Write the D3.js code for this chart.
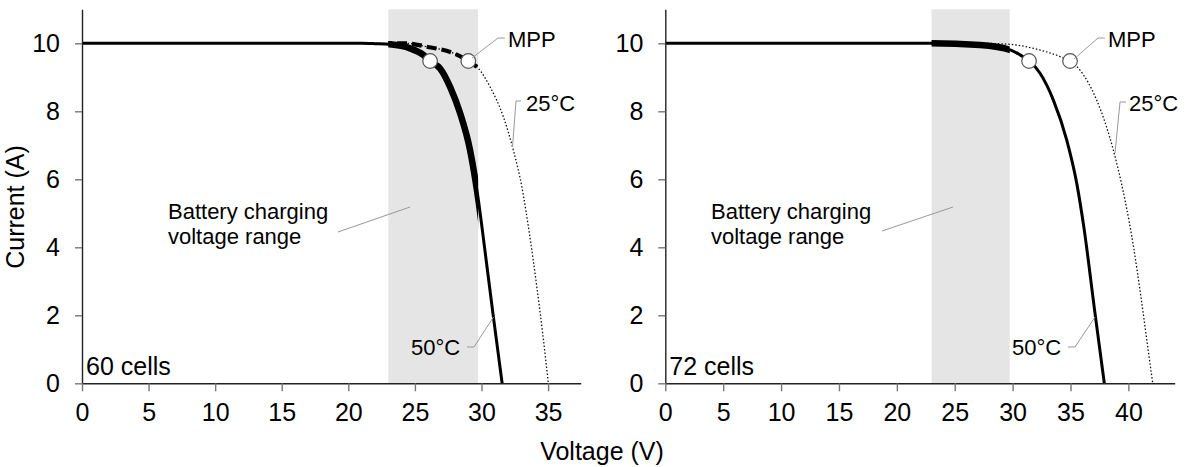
<!DOCTYPE html>
<html>
    <head>
        <meta charset="utf-8">
        <title>PV I-V curves</title>
        <script src="https://d3js.org/d3.v7.min.js" charset="utf-8"></script>
        <style type="text/css">
        body {
            margin: 0;
            background: white;
        }
        svg text {
            font-family: 'Liberation Sans', Arial, sans-serif;
            fill: black;
        }
        .tick text {
            font-size: 25px;
        }
        .note {
            font-size: 22px;
        }
        .leader {
            fill: none;
            stroke: #999;
            stroke-width: 1;
        }
        </style>
    </head>
    <body>
        <script type="text/javascript">

        // values
        var currentTicks = [0, 2, 4, 6, 8, 10];
        var voltTicks60 = [0, 5, 10, 15, 20, 25, 30, 35];
        var voltTicks72 = [0, 5, 10, 15, 20, 25, 30, 35, 40];
        var chargeRange = [23, 29.75];

        // [voltage, current]
        var cells60_50C = [[0, 10], [21, 10], [22, 9.99], [23.13, 9.97], [24.64, 9.85], [25.63, 9.66],
            [26.14, 9.48], [26.89, 9.26], [27.64, 8.72], [28.39, 7.95], [29.14, 6.86], [29.55, 5.95],
            [29.8, 5.3], [30.05, 4.55], [30.89, 1.96], [31.55, 0]];
        var cells60_25C = [[0, 10], [23, 10], [24.26, 10], [25.89, 9.9], [27.89, 9.71], [29.01, 9.48],
            [29.77, 9.26], [30.64, 8.72], [31.64, 7.84], [32.39, 6.86], [33.03, 5.78], [33.6, 4.4],
            [34.15, 2.85], [34.6, 1.45], [35.02, 0]];
        var cells72_50C = [[0, 10], [22.86, 10], [27.18, 9.95], [29.84, 9.8], [30.64, 9.66], [31.42, 9.48],
            [32.37, 9.12], [33.52, 8.33], [34.67, 7.16], [35.54, 5.88], [36.15, 4.6], [37.1, 2.1],
            [37.92, 0]];
        var cells72_25C = [[0, 10], [27, 10], [29.78, 9.97], [32.37, 9.8], [34.1, 9.61], [34.96, 9.48],
            [35.82, 9.21], [37.26, 8.33], [38.7, 6.86], [39.7, 5.4], [40.45, 4.0], [41.1, 2.5],
            [41.6, 1.25], [42.1, 0]];
        var mpp60 = [[26.14, 9.48], [29.01, 9.48]];
        var mpp72 = [[31.42, 9.48], [34.96, 9.48]];

        var panels = [
            { id: 'p60', label: '60 cells', xmax: 37.45, left: 82, right: 580.7,
              ticks: voltTicks60, hot: cells60_50C, cool: cells60_25C, mpp: mpp60, dashedCool: true,
              notes: { mpp: [508, 46.5], c25: [526, 110.5], c50: [411, 354.5], bat: [168, 218.5] },
              leaders: {
                mpp: [[505, 38], [498, 38], [472, 58]],
                c25: [[521, 101], [516, 101], [512.5, 147]],
                c50: [[467, 347], [474, 347], [493.5, 317]],
                bat: [[338, 232], [410, 207]]
              } },
            { id: 'p72', label: '72 cells', xmax: 44, left: 665.3, right: 1174.7,
              ticks: voltTicks72, hot: cells72_50C, cool: cells72_25C, mpp: mpp72, dashedCool: false,
              notes: { mpp: [1108, 46.5], c25: [1129, 110.5], c50: [1012, 354.5], bat: [711, 218.5] },
              leaders: {
                mpp: [[1105, 38], [1098, 38], [1074, 59]],
                c25: [[1126, 102], [1120, 102], [1115, 153]],
                c50: [[1068, 347], [1075, 347], [1095, 317]],
                bat: [[882, 231], [953, 207]]
              } }
        ];

        var W = 1185, H = 467;
        var yTop = 9.3, yBottom = 383.3;

        var svg = d3.select('body')
            .append('svg')
            .attr('width', W)
            .attr('height', H);

        var y = d3.scaleLinear().domain([0, 11]).range([yBottom, yTop]);

        panels.forEach(function(p){
            var x = d3.scaleLinear().domain([0, p.xmax]).range([p.left, p.right]);
            var g = svg.append('g').attr('id', p.id);

            // shaded charging range
            g.append('rect')
                .attr('x', x(chargeRange[0]))
                .attr('y', y(11))
                .attr('width', x(chargeRange[1]) - x(chargeRange[0]))
                .attr('height', y(0) - y(11))
                .attr('fill', '#e5e5e5');

            g.append('clipPath')
                .attr('id', 'clip_' + p.id)
                .append('rect')
                .attr('x', x(chargeRange[0]))
                .attr('y', 0)
                .attr('width', x(chargeRange[1]) - x(chargeRange[0]))
                .attr('height', H);

            var line = d3.line()
                .x(function(d){ return x(d[0]); })
                .y(function(d){ return y(d[1]); })
                .curve(d3.curveMonotoneX);

            // 25°C curve, thin dotted
            g.append('path')
                .attr('d', line(p.cool))
                .attr('fill', 'none')
                .attr('stroke', '#111')
                .attr('stroke-width', 1.3)
                .attr('stroke-dasharray', '1.5,2');

            if (p.dashedCool) {
                g.append('path')
                    .attr('d', line(p.cool))
                    .attr('clip-path', 'url(#clip_' + p.id + ')')
                    .attr('fill', 'none')
                    .attr('stroke', 'black')
                    .attr('stroke-width', 4.2)
                    .attr('stroke-dasharray', '10,5');
            }

            // 50°C curve, solid
            g.append('path')
                .attr('d', line(p.hot))
                .attr('fill', 'none')
                .attr('stroke', 'black')
                .attr('stroke-width', 3);

            g.append('path')
                .attr('d', line(p.hot))
                .attr('clip-path', 'url(#clip_' + p.id + ')')
                .attr('fill', 'none')
                .attr('stroke', 'black')
                .attr('stroke-width', 6.5);

            // axes
            var ya = g.append('g')
                .attr('transform', 'translate(' + p.left + ',0)')
                .call(d3.axisLeft(y).tickValues(currentTicks).tickSize(7).tickSizeOuter(0).tickPadding(15));
            var xa = g.append('g')
                .attr('transform', 'translate(0,' + yBottom + ')')
                .call(d3.axisBottom(x).tickValues(p.ticks).tickSize(8).tickSizeOuter(0).tickPadding(12));

            [ya, xa].forEach(function(a){
                a.select('.domain').attr('stroke', '#222').attr('stroke-width', 1.4);
                a.selectAll('.tick line').attr('stroke', '#777').attr('stroke-width', 1.4);
                a.selectAll('.tick text').attr('fill', 'black');
                a.attr('font-family', null).attr('font-size', null);
            });

            // MPP markers
            g.selectAll('circle.mpp')
                .data(p.mpp)
                .enter()
                .append('circle')
                .attr('class', 'mpp')
                .attr('cx', function(d){ return x(d[0]); })
                .attr('cy', function(d){ return y(d[1]); })
                .attr('r', 7.3)
                .attr('fill', 'white')
                .attr('stroke', '#555')
                .attr('stroke-width', 1.2);

            // leader lines
            var leader = d3.line();
            Object.keys(p.leaders).forEach(function(k){
                g.append('path')
                    .attr('class', 'leader')
                    .attr('d', leader(p.leaders[k]));
            });

            g.append('text').attr('class', 'note')
                .attr('x', p.notes.mpp[0]).attr('y', p.notes.mpp[1]).text('MPP');
            g.append('text').attr('class', 'note')
                .attr('x', p.notes.c25[0]).attr('y', p.notes.c25[1]).text('25°C');
            g.append('text').attr('class', 'note')
                .attr('x', p.notes.c50[0]).attr('y', p.notes.c50[1]).text('50°C');

            var bat = g.append('text').attr('class', 'note')
                .attr('x', p.notes.bat[0]).attr('y', p.notes.bat[1]);
            bat.append('tspan').attr('x', p.notes.bat[0]).text('Battery charging');
            bat.append('tspan').attr('x', p.notes.bat[0]).attr('dy', 25).text('voltage range');

            g.append('text')
                .attr('x', p.left + 4)
                .attr('y', 375)
                .attr('font-size', 25)
                .text(p.label);
        });

        svg.append('text')
            .attr('transform', 'translate(24,207) rotate(-90)')
            .attr('text-anchor', 'middle')
            .attr('font-size', 25)
            .text('Current (A)');

        svg.append('text')
            .attr('x', 602)
            .attr('y', 460)
            .attr('text-anchor', 'middle')
            .attr('font-size', 25)
            .text('Voltage (V)');

        </script>
    </body>
</html>
